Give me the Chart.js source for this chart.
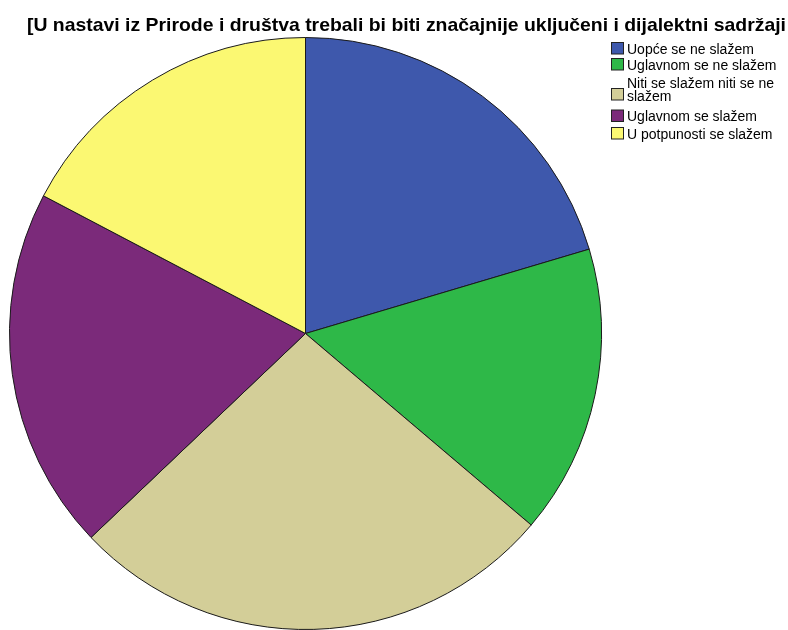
<!DOCTYPE html>
<html>
<head>
<meta charset="utf-8">
<script src="https://cdn.jsdelivr.net/npm/chart.js@4/dist/chart.umd.min.js"></script>
<style>
  html, body { margin: 0; padding: 0; background: #fff; }
</style>
</head>
<body>
<canvas id="grafikon" width="788" height="630"></canvas>
<script>
// Naslov, kategorije i udjeli (procjena iz slike, u %)
const naslov = '[U nastavi iz Prirode i društva trebali bi biti značajnije uključeni i dijalektni sadržaji';
const kategorije = [
  'Uopće se ne slažem',
  'Uglavnom se ne slažem',
  'Niti se slažem niti se ne slažem',
  'Uglavnom se slažem',
  'U potpunosti se slažem'
];
// kako je legenda prelomila redove
const legendaRedovi = [
  ['Uopće se ne slažem'],
  ['Uglavnom se ne slažem'],
  ['Niti se slažem niti se ne', 'slažem'],
  ['Uglavnom se slažem'],
  ['U potpunosti se slažem']
];
const udjeli = [20.4, 15.8, 26.7, 19.8, 17.3];
const boje = ['#3E58AC', '#2EB848', '#D3CE98', '#7B2A7A', '#FBF872'];

// Crta naslov i legendu na canvas (pozicije prema referenci)
const naslovILegenda = {
  id: 'naslovILegenda',
  afterDraw(chart) {
    const c = chart.ctx;
    c.save();
    c.fillStyle = '#000';
    c.textBaseline = 'alphabetic';
    c.font = "bold 19px 'Liberation Sans', Arial, sans-serif";
    const sirina = c.measureText(naslov).width;
    c.translate(27, 31);
    c.scale(759 / sirina, 1);
    c.fillText(naslov, 0, 0);
    c.restore();

    c.save();
    c.font = "14px 'Liberation Sans', Arial, sans-serif";
    c.textBaseline = 'alphabetic';
    const vrhoviKvadrata = [42, 58, 88, 109.5, 127];
    legendaRedovi.forEach((redovi, i) => {
      const y = vrhoviKvadrata[i];
      c.fillStyle = boje[i];
      c.fillRect(611.5, y + 0.5, 12, 11.5);
      c.strokeStyle = '#222';
      c.lineWidth = 1;
      c.strokeRect(611.5, y + 0.5, 12, 11.5);
      c.fillStyle = '#000';
      if (redovi.length === 1) {
        c.fillText(redovi[0], 627, y + 11.5);
      } else {
        c.fillText(redovi[0], 627, y - 0.5);
        c.fillText(redovi[1], 627, y + 12.5);
      }
    });
    c.restore();
  }
};

new Chart(document.getElementById('grafikon').getContext('2d'), {
  type: 'pie',
  data: {
    labels: kategorije,
    datasets: [{
      data: udjeli,
      backgroundColor: boje,
      borderColor: '#1a1a1a',
      borderWidth: 1
    }]
  },
  options: {
    responsive: false,
    animation: false,
    layout: { padding: { left: 9, right: 186, top: 37, bottom: 0 } },
    plugins: {
      legend: { display: false },
      tooltip: { enabled: false },
      title: { display: false }
    }
  },
  plugins: [naslovILegenda]
});
</script>
</body>
</html>
